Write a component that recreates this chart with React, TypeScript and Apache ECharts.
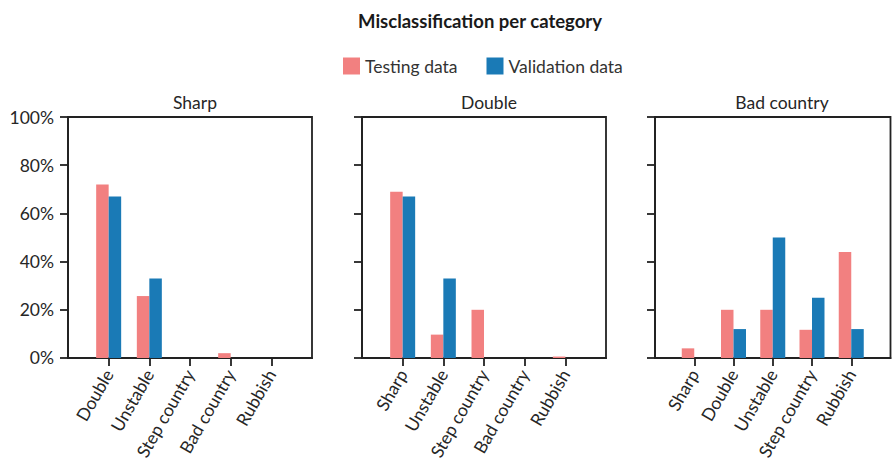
import React, { useEffect, useRef } from "react";
import * as echarts from "echarts";

const TITLE = "Misclassification per category";
const SERIES_NAMES = ["Testing data", "Validation data"];
const PANEL_TITLES = ["Sharp", "Double", "Bad country"];
const CATS1 = ["Double", "Unstable", "Step country", "Bad country", "Rubbish"];
const TEST1 = [72, 25.7, 0, 2, 0];
const VAL1 = [67, 33, 0, 0, 0];
const CATS2 = ["Sharp", "Unstable", "Step country", "Bad country", "Rubbish"];
const TEST2 = [69, 9.7, 20, 0, 0.6];
const VAL2 = [67, 33, 0, 0, 0];
const CATS3 = ["Sharp", "Double", "Unstable", "Step country", "Rubbish"];
const TEST3 = [4, 20, 20, 11.7, 44];
const VAL3 = [0, 12, 50, 25, 12];
const Y_TICKS = [0, 20, 40, 60, 80, 100];

const COLORS = ["#F28080", "#1A7AB6"];
const FONT = "Lato, 'Open Sans', sans-serif";
const TEXT = "#262626";
const LINE = "#222222";
const FS = 17.5;

export default function App() {
  const ref = useRef<HTMLDivElement>(null);
  useEffect(() => {
    if (!ref.current) return;
    const chart = echarts.init(ref.current, null, { renderer: "svg" });
    const cats = [CATS1, CATS2, CATS3];
    const tests = [TEST1, TEST2, TEST3];
    const vals = [VAL1, VAL2, VAL3];
    const lefts = [68, 362, 655];
    const pad = (arr: any[]) => ["-", ...arr, "-"];
    const grids = lefts.map((l) => ({
      left: l,
      top: 117,
      width: 244,
      height: 244,
      show: true,
      borderColor: LINE,
      borderWidth: 1.8,
      backgroundColor: "#fff",
      containLabel: false,
    }));
    const xAxes = cats.map((c, i) => ({
      type: "category",
      gridIndex: i,
      data: ["", ...c, ""],
      boundaryGap: false,
      axisLine: { show: true, lineStyle: { color: LINE, width: 1.8 } },
      axisTick: {
        show: true,
        length: 8,
        interval: (idx: number) => idx > 0 && idx < c.length + 1,
        lineStyle: { color: LINE, width: 1.8 },
      },
      axisLabel: {
        interval: 0,
        rotate: 60,
        margin: 13,
        fontSize: FS,
        color: TEXT,
        fontFamily: FONT,
      },
      splitLine: { show: false },
    }));
    const yAxes = cats.map((_, i) => ({
      type: "value",
      gridIndex: i,
      min: 0,
      max: 100,
      interval: 20,
      axisLine: { show: true, lineStyle: { color: LINE, width: 1.8 } },
      axisTick: { show: true, length: 8, lineStyle: { color: LINE, width: 1.8 } },
      axisLabel: {
        show: i === 0,
        formatter: (v: number) => (Y_TICKS.includes(v) ? v + "%" : ""),
        fontSize: FS,
        color: TEXT,
        fontFamily: FONT,
        margin: 14,
      },
      splitLine: { show: false },
    }));
    const series: any[] = [];
    for (let i = 0; i < 3; i++) {
      series.push({
        name: SERIES_NAMES[0],
        type: "bar",
        xAxisIndex: i,
        yAxisIndex: i,
        data: pad(tests[i]),
        barWidth: 12.5,
        barGap: "0%",
        itemStyle: { color: COLORS[0] },
      });
      series.push({
        name: SERIES_NAMES[1],
        type: "bar",
        xAxisIndex: i,
        yAxisIndex: i,
        data: pad(vals[i]),
        barWidth: 12.5,
        barGap: "0%",
        itemStyle: { color: COLORS[1] },
      });
    }
    const titles: any[] = [
      {
        text: TITLE,
        left: 475,
        top: 6,
        textAlign: "center",
        textStyle: { fontSize: 18.5, fontWeight: "bold", color: "#1a1a1a", fontFamily: FONT },
      },
      ...PANEL_TITLES.map((t, i) => ({
        text: t,
        left: lefts[i] + 122,
        top: 88,
        textAlign: "center",
        textStyle: { fontSize: FS, fontWeight: "normal", color: TEXT, fontFamily: FONT },
      })),
    ];
    chart.setOption({
      animation: false,
      backgroundColor: "#fff",
      title: titles,
      legend: {
        data: SERIES_NAMES,
        left: 338,
        top: 52,
        icon: "rect",
        itemWidth: 17,
        itemHeight: 17,
        itemGap: 29,
        textStyle: { fontSize: FS, color: "#333", fontFamily: FONT },
      },
      grid: grids,
      xAxis: xAxes,
      yAxis: yAxes,
      series,
    });
    return () => chart.dispose();
  }, []);
  return (
    <div
      ref={ref}
      style={{ position: "absolute", left: 0, top: 0, width: 892, height: 463 }}
    />
  );
}
